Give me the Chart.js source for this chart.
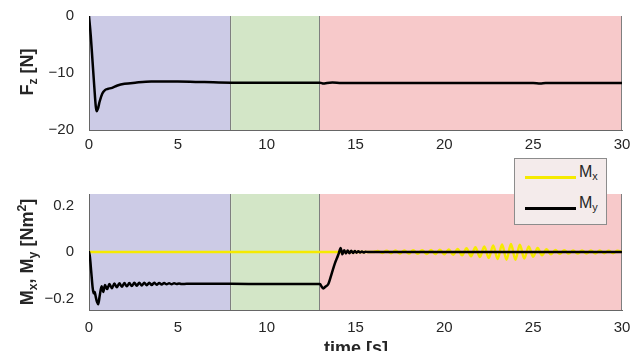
<!DOCTYPE html>
<html>
<head>
<meta charset="utf-8">
<script src="https://cdn.jsdelivr.net/npm/chart.js@4.4.0/dist/chart.umd.min.js"></script>
<style>
  html, body { margin: 0; padding: 0; background: #fff; }
  body { width: 644px; height: 351px; position: relative; overflow: hidden;
         font-family: 'Liberation Sans', Arial, sans-serif; color: #262626; }
  canvas { position: absolute; left: 0; }
  sub, sup { line-height: 0; font-size: 0.68em; }
  sub { vertical-align: -0.3em; }
  sup { vertical-align: 0.55em; }
  .ylab { position: absolute; transform: translate(-50%, -50%) rotate(-90deg);
          font-weight: bold; font-size: 18px; line-height: 18px; white-space: nowrap; }
  .xlab { position: absolute; left: 356px; top: 339px; transform: translateX(-50%);
          font-weight: bold; font-size: 18px; line-height: 18px; white-space: nowrap; }
  #legend { position: absolute; left: 514px; top: 158px; width: 93px; height: 67px;
            box-sizing: border-box; background: #f4ebeb; border: 1px solid #8c8c8c; }
  #legend .sw { position: absolute; left: 10px; width: 51px; height: 3px; }
  #legend .tx { position: absolute; left: 64px; font-size: 16px; line-height: 16px; white-space: nowrap; }
</style>
</head>
<body>
<canvas id="chartFz" width="644" height="160" style="top:0"></canvas>
<canvas id="chartM" width="644" height="170" style="top:170px"></canvas>

<div class="ylab" style="left:27px; top:72px">F<sub>z</sub> [N]</div>
<div class="ylab" style="left:27px; top:252px">M<sub>x</sub>, M<sub>y</sub> [Nm<sup>2</sup>]</div>
<div class="xlab">time [s]</div>

<div id="legend">
  <div class="sw" style="top:17px; background:#f5ea00"></div>
  <div class="tx" style="top:5px">M<sub>x</sub></div>
  <div class="sw" style="top:48px; background:#000"></div>
  <div class="tx" style="top:36px">M<sub>y</sub></div>
</div>

<script>
// Fases del ensayo (fondo de color)
const phaseStart = [0, 8, 13];
const phaseEnd = [8, 13, 30];
const phaseColors = ['#cccbe6', '#d3e6c7', '#f7c9ca'];

// Ejes
const xTicks = [0, 5, 10, 15, 20, 25, 30];
const fzTicks = [-20, -10, 0];
const mTicks = [-0.2, 0, 0.2];

// Fuerza Fz [N]
const fzTime = [0, 0.1, 0.2, 0.3, 0.38, 0.43, 0.5, 0.6, 0.75, 0.9, 1.05, 1.3, 1.6, 2.0, 2.6, 3.5,
                5.0, 6.5, 8.0, 10.0, 13.0, 13.2, 13.4, 13.7, 14.2, 16.0, 20.0, 25.0, 25.4, 25.7, 30.0];
const fzVals = [0, -3.5, -8, -12.5, -15.8, -16.7, -16.3, -15.0, -13.6, -13.0, -12.8, -12.6, -12.2, -11.9, -11.7, -11.5,
                -11.5, -11.6, -11.7, -11.7, -11.7, -11.85, -11.75, -11.68, -11.75, -11.75, -11.75, -11.75, -11.83, -11.75, -11.75];

// Momento My
const myTime = [0, 0.05, 0.12, 0.2, 0.26, 0.32, 0.37, 0.45, 0.52, 0.6, 0.71, 0.8, 0.9, 1.02, 1.15, 1.29, 1.43, 1.57,
                1.71, 1.85, 1.99, 2.13, 2.27, 2.41, 2.55, 2.69, 2.83, 2.97, 3.11, 3.25, 3.39, 3.53, 3.67, 3.81,
                3.95, 4.09, 4.23, 4.37, 4.51, 4.65, 4.79, 4.93, 5.07, 5.21, 5.5, 6.5, 8.0, 10.0, 12.0, 13.0,
                13.1, 13.19, 13.3, 13.47, 13.66, 13.84, 14.03, 14.1, 14.16, 14.26, 14.36, 14.46, 14.56, 14.66,
                14.76, 14.86, 14.96, 15.06, 15.16, 15.26, 15.36, 15.46, 15.56, 15.7, 20.0, 30.0];
const myVals = [0, -0.02, -0.08, -0.15, -0.178, -0.172, -0.19, -0.215, -0.225, -0.19, -0.148, -0.172, -0.142, -0.16,
                -0.138, -0.156, -0.136, -0.152, -0.135, -0.15, -0.134, -0.148, -0.134, -0.147, -0.133, -0.145,
                -0.133, -0.144, -0.133, -0.143, -0.133, -0.142, -0.133, -0.141, -0.134, -0.14, -0.134, -0.139,
                -0.135, -0.139, -0.135, -0.138, -0.136, -0.138, -0.137, -0.137, -0.137, -0.138, -0.138, -0.138,
                -0.15, -0.157, -0.15, -0.138, -0.093, -0.049, -0.012, 0.005, 0.017, -0.01, 0.008, -0.006, 0.006,
                -0.005, 0.005, -0.004, 0.004, -0.003, 0.003, -0.002, 0.002, -0.002, 0.001, 0, 0, 0];

// Momento Mx
const mxTime = [0, 16.0, 16.25, 16.5, 16.75, 17.0, 17.25, 17.5, 17.75, 18.0, 18.25, 18.5, 18.75, 19.0, 19.25, 19.5,
                19.75, 20.0, 20.25, 20.5, 20.75, 21.0, 21.25, 21.5, 21.75, 22.0, 22.25, 22.5, 22.75, 23.0, 23.25,
                23.5, 23.75, 24.0, 24.25, 24.5, 24.75, 25.0, 25.25, 25.5, 25.75, 26.0, 26.25, 26.5, 26.75, 27.0,
                27.25, 27.5, 27.75, 28.0, 28.25, 28.5, 28.75, 29.0, 29.25, 29.5, 29.75, 30.0];
const mxVals = [0, 0, 0.004, -0.004, 0.005, -0.005, 0.006, -0.006, 0.007, -0.007, 0.008, -0.008, 0.008, -0.009,
                0.009, -0.009, 0.01, -0.01, 0.011, -0.012, 0.013, -0.014, 0.016, -0.018, 0.02, -0.022, 0.024,
                -0.026, 0.028, -0.03, 0.032, -0.033, 0.034, -0.033, 0.031, -0.028, 0.024, -0.02, 0.017, -0.014,
                0.012, -0.01, 0.009, -0.008, 0.008, -0.007, 0.007, -0.007, 0.006, -0.006, 0.006, -0.006, 0.006,
                -0.005, 0.005, -0.005, 0.005, 0];

const toPts = (ts, vs) => ts.map((t, i) => ({ x: t, y: vs[i] }));
const fmt = v => (v < 0 ? '\u2212' + Math.abs(v) : String(v));
const tickFont = { family: "'Liberation Sans', Arial, sans-serif", size: 15 };

// Fondo por fases + bordes verticales
const phasePlugin = {
    id: 'phases',
    beforeDraw(chart) {
        const { ctx, chartArea: a, scales: { x } } = chart;
        ctx.save();
        phaseStart.forEach((s, i) => {
            const x0 = x.getPixelForValue(s);
            const x1 = x.getPixelForValue(phaseEnd[i]);
            ctx.fillStyle = phaseColors[i];
            ctx.fillRect(x0, a.top, x1 - x0, a.bottom - a.top);
        });
        ctx.strokeStyle = '#7f7f7f';
        ctx.lineWidth = 1;
        phaseEnd.forEach(e => {
            const px = Math.round(x.getPixelForValue(e)) - 0.5;
            ctx.beginPath();
            ctx.moveTo(px, a.top);
            ctx.lineTo(px, a.bottom);
            ctx.stroke();
        });
        ctx.restore();
    }
};

function makePanel(id, datasets, yMin, yMax, yTicks, topPad, xPad) {
    return new Chart(document.getElementById(id), {
        type: 'line',
        data: { datasets },
        options: {
            responsive: false,
            animation: false,
            devicePixelRatio: 1,
            layout: { padding: { left: 0, right: 22, top: topPad, bottom: 0 } },
            plugins: { legend: { display: false }, tooltip: { enabled: false } },
            elements: { point: { radius: 0 }, line: { cubicInterpolationMode: 'monotone', borderCapStyle: 'round' } },
            scales: {
                x: {
                    type: 'linear', min: 0, max: 30,
                    grid: { display: false },
                    border: { display: true, color: '#666', width: 1 },
                    afterBuildTicks: s => { s.ticks = xTicks.map(v => ({ value: v })); },
                    afterFit: s => { s.height = 30; },
                    ticks: { font: tickFont, color: '#262626', padding: xPad, maxRotation: 0, callback: fmt }
                },
                y: {
                    min: yMin, max: yMax,
                    grid: { display: false },
                    border: { display: true, color: '#666', width: 1 },
                    afterBuildTicks: s => { s.ticks = yTicks.map(v => ({ value: v })); },
                    afterFit: s => { s.width = 89; },
                    ticks: { font: tickFont, color: '#262626', padding: 7, callback: fmt }
                }
            }
        },
        plugins: [phasePlugin]
    });
}

makePanel('chartFz', [
    { data: toPts(fzTime, fzVals), borderColor: '#000', borderWidth: 2.5 }
], -20, 0, fzTicks, 13, -2);

makePanel('chartM', [
    { data: toPts(myTime, myVals), borderColor: '#000', borderWidth: 2.5 },
    { data: toPts(mxTime, mxVals), borderColor: '#f5ea00', borderWidth: 2.5 }
], -0.25, 0.25, mTicks, 24, 1);
</script>
</body>
</html>
